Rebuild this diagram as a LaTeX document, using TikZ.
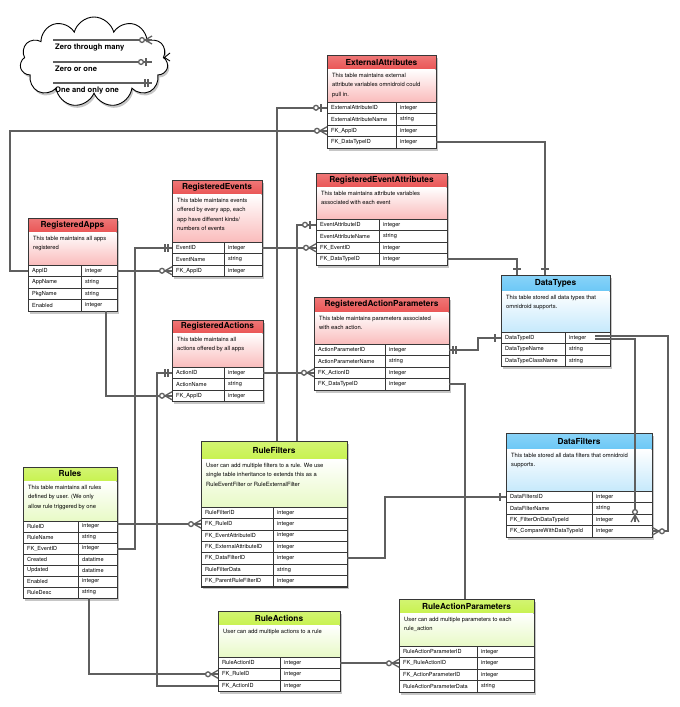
\documentclass[tikz,border=0pt]{standalone}
\usepackage{fontspec}
\setmainfont{TeX Gyre Heros}
\usetikzlibrary{shapes.symbols,shadows,calc}

\definecolor{tbBorder}{RGB}{55,55,55}
\definecolor{lnGray}{RGB}{95,95,95}
\definecolor{redHead}{RGB}{234,86,86}
\definecolor{redNote}{RGB}{250,188,188}
\definecolor{greenHead}{RGB}{200,242,80}
\definecolor{greenNote}{RGB}{232,250,198}
\definecolor{blueHead}{RGB}{108,200,246}
\definecolor{blueNote}{RGB}{198,233,252}

\tikzset{
	table width/.store in=\tbW,
	table width = 110,
	key width/.store in=\tbK,
	key width = 60,
	note height/.store in=\tbD,
	note height = 33,
	row height/.store in=\tbR,
	row height = 11.5,
	title height/.store in=\tbT,
	title height = 14}
\tikzset{
	table frame/.style={draw=tbBorder, line width=0.8, fill=white, inner sep=0, outer sep=0,
		drop shadow={opacity=0.45, shadow xshift=1.5pt, shadow yshift=-2.5pt}},
	head/.style={draw=tbBorder, line width=0.8, inner sep=0, outer sep=0,
		font=\fontsize{8.3}{9}\selectfont\bfseries},
	red title/.style={head, top color=redHead!80!white, bottom color=redHead},
	green title/.style={head, top color=greenHead!80!white, bottom color=greenHead},
	blue title/.style={head, top color=blueHead!80!white, bottom color=blueHead},
	red note/.style={inner sep=0, outer sep=0, top color=white, bottom color=redNote},
	green note/.style={inner sep=0, outer sep=0, top color=white, bottom color=greenNote},
	blue note/.style={inner sep=0, outer sep=0, top color=white, bottom color=blueNote},
	note text/.style={inner sep=0, align=left, font=\fontsize{5.8}{9.4}\selectfont},
	table row/.style={draw=tbBorder, line width=0.6, fill=white, inner sep=0, outer sep=0},
	row text/.style={inner sep=0, font=\fontsize{5.6}{6}\selectfont},
	table grid/.style={draw=tbBorder, line width=0.6},
	er line/.style={draw=lnGray, line width=2},
	er mark/.style={draw=lnGray, line width=1.3},
	legend text/.style={inner sep=0, font=\fontsize{7.6}{8}\selectfont\bfseries}}

% table: [sizes] name, top left, colour, title, note, rows
\newcommand{\erTable}[7][]{%
	\begin{scope}[shift={(#3)},#1]
	\foreach \fld/\typ [count=\n] in {#7} {\xdef\tbN{\n}}
	\pgfmathsetmacro\tbH{\tbT+\tbD+\tbN*\tbR}
	\node[table frame, minimum width=\tbW, minimum height=\tbH, anchor=north west] (#2) at (0,0) {};
	\node[#4 title, minimum width=\tbW, minimum height=\tbT, anchor=north west] (#2-title) at (0,0) {#5};
	\node[#4 note, minimum width=\tbW-0.8, minimum height=\tbD, anchor=north west] (#2-note) at (0.4,\tbT) {};
	\begin{scope}
		\clip (0,\tbT) rectangle (\tbW,\tbT+\tbD);
		\node[note text, anchor=north west] (#2-text) at (5,\tbT+4) {#6};
	\end{scope}
	\foreach \fld/\typ [count=\i] in {#7} {
		\node[table row, minimum width=\tbW, minimum height=\tbR, anchor=north west] (#2-\i) at (0,{\tbT+\tbD+(\i-1)*\tbR}) {};
		\node[row text, anchor=west] (#2-\i-f) at (4,{\tbT+\tbD+(\i-0.5)*\tbR}) {\fld};
		\node[row text, anchor=west] (#2-\i-t) at ({\tbK+4},{\tbT+\tbD+(\i-0.5)*\tbR}) {\typ};
	}
	\draw[table grid] (\tbK,\tbT+\tbD) -- (\tbK,\tbH);
	\draw[table grid, line width=0.8] (0,0) rectangle (\tbW,\tbH);
	\end{scope}}

% end marks: point, direction away from the table
\newcommand{\zeroMany}[2]{\begin{scope}[shift={(#1)},rotate=#2]
	\draw[er mark] (0,-4) -- (7,0) -- (0,4);
	\draw[er mark, fill=white] (10,0) circle (2.4);
	\end{scope}}
\newcommand{\zeroOne}[2]{\begin{scope}[shift={(#1)},rotate=#2]
	\draw[er mark] (6,-4) -- (6,4);
	\draw[er mark, fill=white] (11,0) circle (2.4);
	\end{scope}}
\newcommand{\oneOnly}[2]{\begin{scope}[shift={(#1)},rotate=#2]
	\draw[er mark] (4,-4) -- (4,4) (7,-4) -- (7,4);
	\end{scope}}
\newcommand{\oneBar}[2]{\begin{scope}[shift={(#1)},rotate=#2]
	\draw[er mark] (6,-4) -- (6,4);
	\end{scope}}

\begin{document}
\begin{tikzpicture}[x=1pt,y=1pt,yscale=-1]
	\useasboundingbox (0,0) rectangle (680,707);

	%Legend cloud
	\node[cloud, cloud puffs=11, aspect=1.7, draw=black, line width=0.9, fill=white,
		drop shadow={opacity=0.45, shadow xshift=1.5pt, shadow yshift=-2.5pt},
		minimum width=148, minimum height=90] (legend) at (94,62) {};
	\draw[draw=black, line width=0.9, fill=white] (170,53) -- (164.5,57.5) -- (170,61);
	\coordinate (lgA) at (53,40);
	\coordinate (lgA-end) at (152,40);
	\coordinate (lgB) at (53,62);
	\coordinate (lgB-end) at (152,62);
	\coordinate (lgC) at (53,83);
	\coordinate (lgC-end) at (152,83);
	\draw[er line] (lgA) -- (lgA-end);
	\draw[er line] (lgB) -- (lgB-end);
	\draw[er line] (lgC) -- (lgC-end);
	\zeroMany{lgA-end}{180}
	\zeroOne{lgB-end}{180}
	\oneOnly{lgC-end}{180}
	\node[legend text, anchor=north west] (lgA-text) at (55,43.5) {Zero through many};
	\node[legend text, anchor=north west] (lgB-text) at (55,65.5) {Zero or one};
	\node[legend text, anchor=north west] (lgC-text) at (55,86.5) {One and only one};

	%Tables
	\erTable[table width=109,key width=69,note height=33]{ext}{327,55}{red}{ExternalAttributes}
		{This table maintains external\\attribute variables omnidroid could\\pull in.}
		{ExternalAttributeID/integer, ExternalAttributeName/string, FK\_AppID/integer, FK\_DataTypeID/integer}
	\erTable[table width=90,key width=52,note height=48]{evnt}{172,180}{red}{RegisteredEvents}
		{This table maintains events\\offered by every app, each\\app have different kinds/\\numbers of events}
		{EventID/integer, EventName/string, FK\_AppID/integer}
	\erTable[table width=89,key width=53,note height=33]{apps}{28,218}{red}{RegisteredApps}
		{This table maintains all apps\\registered}
		{AppID/integer, AppName/string, PkgName/string, Enabled/integer}
	\erTable[table width=131,key width=63,note height=32]{evattr}{316,173}{red}{RegisteredEventAttributes}
		{This table maintains attribute variables\\associated with each event}
		{EventAttributeID/integer, EventAttributeName/string, FK\_EventID/integer, FK\_DataTypeID/integer}
	\erTable[table width=109,key width=64,note height=41,title height=16]{dtypes}{501,275}{blue}{DataTypes}
		{This table stored all data types that\\omnidroid supports.}
		{DataTypeID/integer, DataTypeName/string, DataTypeClassName/string}
	\erTable[table width=135,key width=71,note height=32,title height=15]{actparam}{314,297}{red}{RegisteredActionParameters}
		{This table maintains parameters associated\\with each action.}
		{ActionParameterID/integer, ActionParameterName/string, FK\_ActionID/integer, FK\_DataTypeID/integer}
	\erTable[table width=91,key width=52,note height=34,title height=13]{acts}{172,320}{red}{RegisteredActions}
		{This table maintains all\\actions offered by all apps}
		{ActionID/integer, ActionName/string, FK\_AppID/integer}
	\erTable[table width=146,key width=72,note height=48,title height=18,row height=11.4]{filters}{201,441}{green}{RuleFilters}
		{User can add multiple filters to a rule. We use\\single table inheritance to extends this as a\\RuleEventFilter or RuleExternalFilter}
		{RuleFilterID/integer, FK\_RuleID/integer, FK\_EventAttributeID/integer, FK\_ExternalAttributeID/integer, FK\_DataFilterID/integer, RuleFilterData/string, FK\_ParentRuleFilterID/integer}
	\erTable[table width=94,key width=55,note height=40,row height=11]{rules}{23,467}{green}{Rules}
		{This table maintains all rules\\defined by user. (We only\\allow rule triggered by one}
		{RuleID/integer, RuleName/string, FK\_EventID/integer, Created/datatime, Updated/datatime, Enabled/integer, RuleDesc/string}
	\erTable[table width=146,key width=86,note height=42,title height=16]{dfilters}{506,433}{blue}{DataFilters}
		{This table stored all data filters that omnidroid\\supports.}
		{DataFiltersID/integer, DataFilterName/string, FK\_FilterOnDataTypeId/integer, FK\_CompareWithDataTypeId/integer}
	\erTable[table width=122,key width=62,note height=32]{ruleacts}{218,611}{green}{RuleActions}
		{User can add multiple actions to a rule}
		{RuleActionID/integer, FK\_RuleID/integer, FK\_ActionID/integer}
	\erTable[table width=135,key width=78,note height=33]{raparam}{399,599}{green}{RuleActionParameters}
		{User can add multiple parameters to each\\rule\_action}
		{RuleActionParameterID/integer, FK\_RuleActionID/integer, FK\_ActionParameterID/integer, RuleActionParameterData/string}

	%Connector ends
	\coordinate (filters-in1) at ($(filters.north west)+(76,0)$);
	\coordinate (filters-in2) at ($(filters.north west)+(96,0)$);
	\coordinate (dtypes-in1) at ($(dtypes.north west)+(16,0)$);
	\coordinate (dtypes-in2) at ($(dtypes.north west)+(44,0)$);
	\coordinate (raparam-in) at ($(raparam.north west)+(66,0)$);
	\coordinate (apps-out) at ($(apps.south east)+(-11,0)$);
	\coordinate (rules-out) at ($(rules.south west)+(66,0)$);
	\coordinate (dtOutA) at ($(dtypes-1.east)+(-15,1.7)$);
	\coordinate (dtOutB) at ($(dtypes-1.east)+(-15,-1.7)$);
	\coordinate (dfIn) at ($(dfilters.north west)+(129,89)$);

	%Connectors
	\draw[er line] (apps-1.west) -- ++(-18,0) |- (ext-3.west);
	\draw[er line] (apps-1.east) -- (evnt-3.west);
	\draw[er line] (rules-3.east) -- ++(18,0) |- (evnt-1.west);
	\draw[er line] (evnt-1.east) -- (evattr-3.west);
	\draw[er line] (filters-in1) |- (ext-1.west);
	\draw[er line] (filters-in2) |- (evattr-1.west);
	\draw[er line] (ext-4.east) -| (dtypes-in2);
	\draw[er line] (evattr-4.east) -| (dtypes-in1);
	\draw[er line] (actparam-1.east) -- ++(29,0) |- (dtypes-1.west);
	\draw[er line] (actparam-4.east) -| (raparam-in);
	\draw[er line] (ruleacts-3.west) -- ++(-61,0) |- (acts-1.west);
	\draw[er line] (acts-1.east) -- (actparam-3.west);
	\draw[er line] (apps-out) |- (acts-3.west);
	\draw[er line] (rules-1.east |- filters-2.west) -- (filters-2.west);
	\draw[er line] (rules-out) |- (ruleacts-2.west);
	\draw[er line] (ruleacts-1.east) -- (raparam-2.west |- ruleacts-1.east);
	\draw[er line] (filters-5.east) -- ++(38,0) |- (dfilters-1.west);
	\draw[er line] (dtOutA) -| (dfIn);
	\draw[er line] (dtOutB) -| ($(dfilters-4.east)+(16,0)$) -- (dfilters-4.east);

	%Marks
	\zeroMany{ext-3.west}{180}
	\zeroOne{ext-1.west}{180}
	\zeroMany{evnt-3.west}{180}
	\oneOnly{evnt-1.west}{180}
	\zeroMany{evattr-3.west}{180}
	\zeroOne{evattr-1.west}{180}
	\oneBar{dtypes-in1}{-90}
	\oneBar{dtypes-in2}{-90}
	\oneBar{dtypes-1.west}{180}
	\oneOnly{actparam-1.east}{0}
	\zeroMany{actparam-3.west}{180}
	\oneOnly{acts-1.west}{180}
	\zeroMany{acts-3.west}{180}
	\zeroMany{filters-2.west}{180}
	\oneBar{dfilters-1.west}{180}
	\zeroMany{dfIn}{-90}
	\zeroMany{dfilters-4.east}{0}
	\zeroMany{ruleacts-2.west}{180}
	\zeroMany{raparam-2.west}{180}
\end{tikzpicture}
\end{document}
